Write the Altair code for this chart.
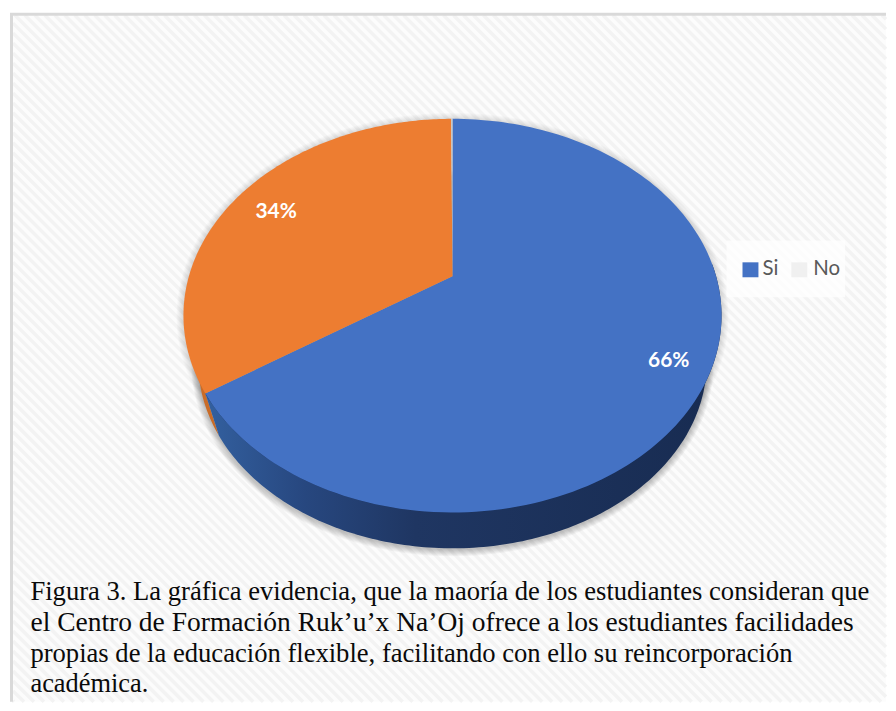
import math
import altair as alt
import pandas as pd

# ---- data ----
categories = ["Si", "Otro", "No"]
shares = [65.7, 34.2, 0.1]
pie_labels = ["66%", "34%"]
legend_names = ["Si", "No"]
caption_lines = [
    "Figura 3. La gráfica evidencia, que la maoría de los estudiantes consideran que",
    "el Centro de Formación Ruk’u’x Na’Oj ofrece a los estudiantes facilidades",
    "propias de la educación flexible, facilitando con ello su reincorporación",
    "académica.",
]
caption_sizes = [26.7, 27.6, 26.7, 26.5]

W, H = 880, 695
OX, OY = 8, 8  # page offset of the chart

xs = alt.Scale(domain=[OX, OX + W], range=[0, W])
ys = alt.Scale(domain=[OY, OY + H], range=[0, H])
X = lambda f: alt.X(f, type="quantitative", scale=xs, axis=None)
Y = lambda f: alt.Y(f, type="quantitative", scale=ys, axis=None)

# perspective pie model
CX, CY = 453.0, 276.0
A, B, K = 264.5, 189.6, 0.2
S, VY = 0.945, 1167.0


def project(theta, lower=False):
    u, v = math.sin(theta), -math.cos(theta)
    w = 1 - K * v
    x, y = CX + A * u / w, CY + B * v / w
    if lower:
        x = CX + S * (x - CX)
        y = VY + S * (y - VY)
    return x, y


def arc(f0, f1, lower=False, n=160):
    return [project(2 * math.pi * (f0 + (f1 - f0) * i / n), lower) for i in range(n + 1)]


def geo(pts):
    pts = [[p[0] - OX, p[1] - OY] for p in pts]
    pts = pts + [pts[0]]
    return {"type": "Feature", "properties": {}, "geometry": {"type": "Polygon", "coordinates": [pts]}}


PROJ = alt.Projection(type="identity", scale=1, translate=[0, 0])


def poly(pts, **mark):
    data = alt.InlineData(values=[geo(pts)])
    return alt.Chart(data).mark_geoshape(stroke=None, **mark).project(**PROJ.to_dict())


ends = []
acc = 0
for s in shares:
    ends.append((acc / 100, (acc + s) / 100))
    acc += s

si0, si1 = ends[0]
ot0, ot1 = ends[1]
no0, no1 = ends[2]

layers = []

# page frame panel
L, T, R, Bt = 12, 14, 888, 703
layers.append(
    alt.Chart(pd.DataFrame({"x": [L], "x2": [R], "y": [T], "y2": [Bt]}))
    .mark_rect(color="#fcfcfc")
    .encode(x=X("x"), x2="x2", y=Y("y"), y2="y2")
)

# diagonal weave of the background
stripes = []
for c in range(-900, 720, 10):
    x0, y0 = L, L + c
    if y0 < T:
        x0, y0 = T - c, T
    x1, y1 = R, R + c
    if y1 > Bt:
        x1, y1 = Bt - c, Bt
    if x0 < x1:
        stripes.append({"x": x0, "x2": x1, "y": y0, "y2": y1})
layers.append(
    alt.Chart(pd.DataFrame(stripes))
    .mark_rule(color="#f3f3f3", strokeWidth=3.5)
    .encode(x=X("x"), x2="x2", y=Y("y"), y2="y2")
)

# frame
frame = pd.DataFrame(
    [
        {"x": 10.5, "x2": 10.5, "y": 12, "y2": 703},
        {"x": 9, "x2": 888, "y": 13, "y2": 13},
    ]
)
layers.append(
    alt.Chart(frame)
    .mark_rule(color="#d9d9d9", strokeWidth=3)
    .encode(x=X("x"), x2="x2", y=Y("y"), y2="y2")
)

# soft shadow
for d in range(1, 8):
    ell = arc(0, 1, lower=True)
    cy = 362.0
    pts = [(CX + (p[0] - CX) * (1 + d / 255), cy + (p[1] - cy) * (1 + d / 187) + 1) for p in ell]
    layers.append(poly(pts, fill="#000000", opacity=0.035))
    top = arc(0, 1)
    pts = [(CX + (p[0] - CX) * (1 + d / 270), 315 + (p[1] - 315) * (1 + d / 197) + 1) for p in top]
    layers.append(poly(pts, fill="#000000", opacity=0.02))

# side walls
layers.append(poly([project(2 * math.pi * ot0)] + arc(ot0, ot1, lower=True), fill="#c96c28"))
wall_grad = alt.Gradient(
    gradient="linear",
    x1=0,
    x2=1,
    y1=0,
    y2=0,
    stops=[
        alt.GradientStop(color="#33609f", offset=0.0),
        alt.GradientStop(color="#27477f", offset=0.2),
        alt.GradientStop(color="#1f3662", offset=0.42),
        alt.GradientStop(color="#182c52", offset=1.0),
    ],
)
layers.append(poly([project(2 * math.pi * si1)] + arc(0.25, si1, lower=True)[::-1], fill=wall_grad))
layers.append(poly(arc(0.24, si1), fill="#1b2f57"))

# top faces
apex = (CX, CY)
layers.append(poly([apex] + arc(si0, si1), fill="#4472c4"))
layers.append(poly([apex] + arc(ot0, ot1), fill="#ed7d31"))
layers.append(poly([apex] + arc(no0, no1, n=4), fill="#c9c9c9"))

# pie labels
labels_df = pd.DataFrame({"t": pie_labels, "x": [670, 276], "y": [361, 212]})
layers.append(
    alt.Chart(labels_df)
    .mark_text(font="Lato", fontWeight="bold", fontSize=21, color="white", align="center", baseline="middle")
    .encode(x=X("x"), y=Y("y"), text="t:N")
)

# legend
layers.append(
    alt.Chart(pd.DataFrame({"x": [728], "x2": [847], "y": [240], "y2": [297]}))
    .mark_rect(color="#ffffff", opacity=0.7)
    .encode(x=X("x"), x2="x2", y=Y("y"), y2="y2")
)
swatches = pd.DataFrame(
    {"name": legend_names, "x": [744, 793], "x2": [760, 809], "y": [262, 262], "y2": [277, 277], "c": ["#4472c4", "#f0f0f0"]}
)
layers.append(
    alt.Chart(swatches)
    .mark_rect()
    .encode(x=X("x"), x2="x2", y=Y("y"), y2="y2", color=alt.Color("c:N", scale=None))
)
leg_text = pd.DataFrame({"t": legend_names, "x": [764, 815], "y": [274.5, 274.5]})
layers.append(
    alt.Chart(leg_text)
    .mark_text(font="Lato", fontSize=20.5, color="#595959", align="left", baseline="alphabetic")
    .encode(x=X("x"), y=Y("y"), text="t:N")
)

# caption
cap = pd.DataFrame({"t": caption_lines, "y": [601, 632, 663, 693], "x": [29.5] * 4, "fs": caption_sizes})
layers.append(
    alt.Chart(cap)
    .mark_text(font="Liberation Serif", color="#0a0a0a", align="left", baseline="alphabetic")
    .encode(x=X("x"), y=Y("y"), text="t:N", size=alt.Size("fs:Q", scale=None))
)

chart = (
    alt.layer(*layers)
    .properties(width=W, height=H, padding=0, background="white")
    .configure_view(stroke=None)
)
chart.save("out.html", embed_options={"renderer": "svg", "actions": False})
